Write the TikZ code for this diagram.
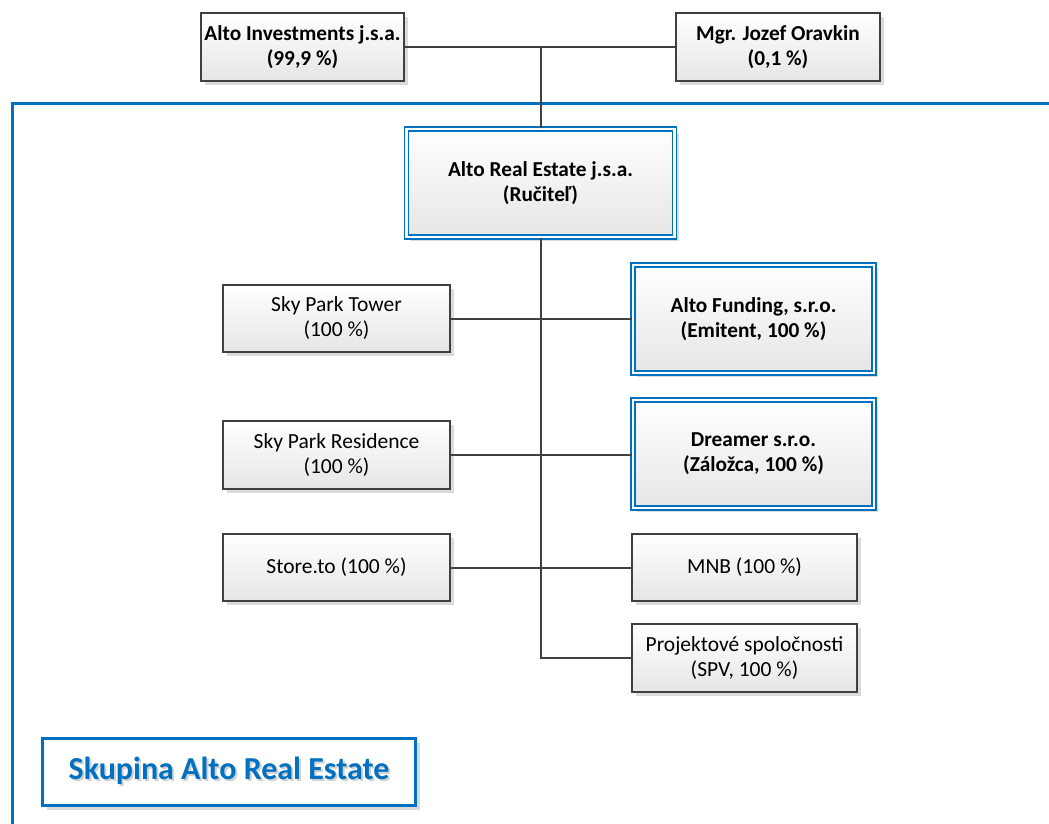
\documentclass[tikz,border=0pt]{standalone}
\usepackage{fontspec}
\setmainfont{Carlito}
\usetikzlibrary{shadows}
\definecolor{aloblue}{HTML}{0070C0}
\definecolor{linegray}{HTML}{404040}
\newcommand{\shadowtxt}[1]{\rlap{\kern2pt\raisebox{-2pt}{\textcolor{black!18}{#1}}}#1}
\tikzset{
  unit/.style={draw=linegray,line width=1.5pt,top color=white,bottom color=black!10,
    drop shadow={shadow xshift=4pt,shadow yshift=-4pt,fill=black!14,opacity=1},
    minimum width=227pt,minimum height=67pt,inner sep=0pt,align=center,
    font=\fontsize{21.5}{25}\selectfont},
  owner/.style={unit,minimum width=203pt,minimum height=68pt,
    font=\fontsize{21.3}{25}\selectfont\bfseries},
  keyunit/.style={unit,draw=aloblue,double=white,double distance=2.5pt,
    minimum width=241pt,minimum height=108pt,font=\fontsize{21.3}{25}\selectfont\bfseries},
  link/.style={draw=linegray,line width=2pt}
}
\begin{document}
\begin{tikzpicture}[x=1pt,y=-1pt]
\useasboundingbox (0,0) rectangle (1049,823);
\draw[aloblue,line width=3pt] (12,840) -- (12,103) -- (1060,103);
\node[owner] (inv) at (302.5,47) {Alto Investments j.s.a.\\(99,9 \%)};
\node[owner,minimum width=204pt] (orav) at (778,47) {Mgr. Jozef Oravkin\\(0,1 \%)};
\node[keyunit,minimum width=268pt] (are) at (540.5,183) {Alto Real Estate j.s.a.\\(Ručiteľ)};
\node[unit] (tower) at (336.5,318.5) {Sky Park Tower\\(100 \%)};
\node[unit,minimum height=68pt] (resid) at (336.5,455) {Sky Park Residence\\(100 \%)};
\node[unit] (store) at (336.5,567.5) {Store.to (100 \%)};
\node[keyunit] (fund) at (753.5,319) {Alto Funding, s.r.o.\\(Emitent, 100 \%)};
\node[keyunit] (dream) at (753.5,454) {Dreamer s.r.o.\\(Záložca, 100 \%)};
\node[unit,minimum width=225pt] (mnb) at (744.5,567.5) {MNB (100 \%)};
\node[unit,minimum width=225pt,minimum height=68pt] (spv) at (744.5,658) {Projektové spoločnosti\\(SPV, 100 \%)};
\node[draw=aloblue,line width=3pt,fill=white,
  drop shadow={shadow xshift=4pt,shadow yshift=-4pt,fill=black!14,opacity=1},
  minimum width=373pt,minimum height=67pt,text=aloblue,
  font=\fontsize{32}{36}\selectfont\bfseries] (grp) at (229,772) {\shadowtxt{Skupina Alto Real Estate}};
\draw[link] (inv.east) -- (orav.west);
\draw[link] (are.north) -- (are.north |- inv.east);
\draw[link] (are.south) |- (spv.west);
\draw[link] (tower.east) -- (tower.east -| fund.west);
\draw[link] (resid.east) -- (resid.east -| dream.west);
\draw[link] (store.east) -- (mnb.west);
\end{tikzpicture}
\end{document}
